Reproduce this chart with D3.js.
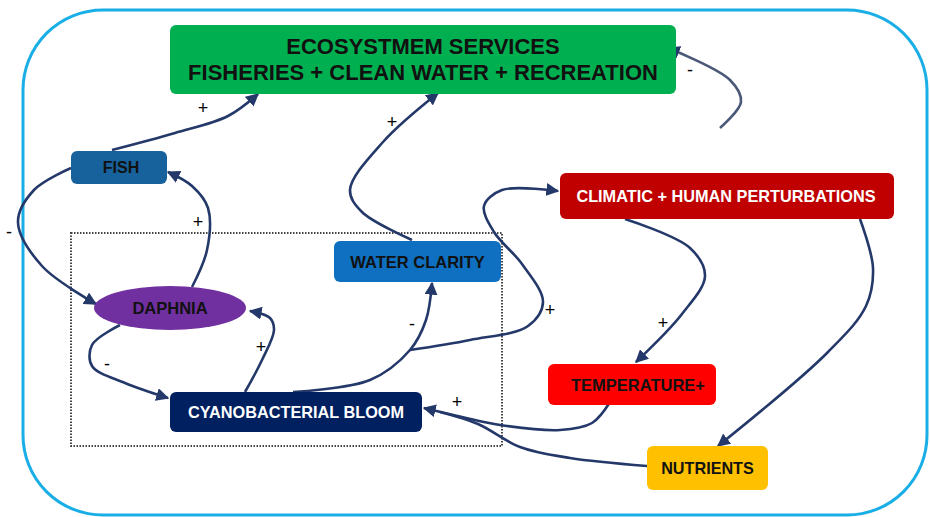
<!DOCTYPE html>
<html>
<head>
<meta charset="utf-8">
<script src="https://cdn.jsdelivr.net/npm/d3@7"></script>
<style>
  body { margin: 0; background: #fff; }
  svg text { font-family: "Liberation Sans", Arial, sans-serif; font-weight: bold; }
</style>
</head>
<body>
<div id="diagram"></div>
<script>
// node content
var nodeIds = ["eco", "fish", "wc", "clim", "daph", "cyano", "temp", "nut"];
var nodeLabels = [
  ["ECOSYSTMEM SERVICES", "FISHERIES + CLEAN WATER + RECREATION"],
  ["FISH"], ["WATER CLARITY"], ["CLIMATIC + HUMAN PERTURBATIONS"],
  ["DAPHNIA"], ["CYANOBACTERIAL BLOOM"], ["TEMPERATURE+"], ["NUTRIENTS"]
];
// links (sign of each causal effect)
var linkSources = ["fish", "wc", "loop", "fish", "daph", "daph", "cyano", "cyano", "branch", "clim", "clim", "temp", "nut"];
var linkTargets = ["eco", "eco", "eco", "daph", "fish", "cyano", "daph", "wc", "clim", "temp", "nut", "cyano", "cyano"];
var linkSigns = ["+", "+", "-", "-", "+", "-", "+", "-", "+", "+", "", "+", ""];

var svgWidth = 930;
var svgHeight = 517;

var svg = d3.select("#diagram")
  .append("svg")
  .attr("width", svgWidth)
  .attr("height", svgHeight);

// layout (pixel positions of the boxes)
var boxes = {
  eco:   {x: 170, y: 25,  w: 506, h: 69, fill: "#00b050", text: "#111", size: 22, dx: 0},
  fish:  {x: 71,  y: 151, w: 96,  h: 33, fill: "#17619c", text: "#111", size: 16, dx: 2},
  wc:    {x: 334, y: 241, w: 167, h: 41, fill: "#0f6fc0", text: "#111", size: 16.5, dx: 0},
  clim:  {x: 560, y: 173, w: 334, h: 46, fill: "#c00000", text: "#fff", size: 16.3, dx: -1},
  cyano: {x: 170, y: 392, w: 252, h: 40, fill: "#002060", text: "#fff", size: 16.3, dx: 0},
  temp:  {x: 548, y: 364, w: 168, h: 41, fill: "#ff0000", text: "#111", size: 16.5, dx: 6},
  nut:   {x: 647, y: 446, w: 121, h: 44, fill: "#ffc000", text: "#111", size: 16.2, dx: 0},
  daph:  {cx: 170, cy: 308, rx: 76, ry: 22, fill: "#7030a0", text: "#111", size: 16.5, dx: 0}
};

// link paths (control points)
var paths = {
  "fish-eco":    [[112,150],[175,133],[228,116],[258,94]],
  "wc-eco":      [[412,240],[362,212],[350,190],[383,142],[438,93]],
  "loop-eco":    [[720,128],[741,102],[730,80],[668,48]],
  "fish-daph":   [[71,168],[34,190],[18,222],[42,266],[96,304]],
  "daph-fish":   [[192,287],[207,250],[208,208],[192,186],[168,172]],
  "daph-cyano":  [[120,325],[92,345],[92,366],[125,383],[168,398]],
  "cyano-daph":  [[245,392],[262,360],[274,330],[270,318],[250,311]],
  "cyano-wc":    [[293,392],[370,380],[410,350],[426,320],[432,283]],
  "branch-clim": [[410,350],[470,340],[528,326],[543,302],[522,264],[494,232],[484,206],[502,190],[558,191]],
  "clim-temp":   [[625,219],[690,248],[705,276],[682,314],[636,362]],
  "clim-nut":    [[860,219],[873,268],[866,306],[828,352],[718,446]],
  "temp-cyano":  [[610,402],[592,423],[560,430],[500,425],[462,417],[424,408]],
  "nut-cyano":   [[647,466],[570,458],[520,447],[478,424],[440,412]]
};
var noHead = {"nut-cyano": true};
var signPos = [[203,108],[392,122],[690,70],[9,232],[198,222],[107,364],[261,347],[412,324],[550,310],[663,323],null,[457,402],null];

// outer frame
svg.append("rect")
  .attr("x", 23).attr("y", 10)
  .attr("width", 904).attr("height", 505)
  .attr("rx", 80).attr("ry", 80)
  .attr("fill", "none")
  .attr("stroke", "#1aaee6")
  .attr("stroke-width", 3);

// dotted subsystem box
svg.append("rect")
  .attr("x", 71).attr("y", 233)
  .attr("width", 431).attr("height", 213)
  .attr("fill", "none")
  .attr("stroke", "#444")
  .attr("stroke-width", 2)
  .attr("stroke-dasharray", "1.5,1.5");

svg.append("defs").append("marker")
  .attr("id", "arrow")
  .attr("viewBox", "0 0 10 10")
  .attr("refX", 9).attr("refY", 5)
  .attr("markerWidth", 5).attr("markerHeight", 5)
  .attr("orient", "auto")
  .append("path")
  .attr("d", "M0,0L10,5L0,10z")
  .attr("fill", "#24396a");

var line = d3.line().curve(d3.curveCatmullRom.alpha(0.5));

linkSources.forEach(function(s, i) {
  var key = s + "-" + linkTargets[i];
  var p = svg.append("path")
    .attr("d", line(paths[key]))
    .attr("fill", "none")
    .attr("stroke", key === "loop-eco" ? "#4a5878" : "#24396a")
    .attr("stroke-width", 2.6);
  if (!noHead[key]) p.attr("marker-end", "url(#arrow)");
  if (linkSigns[i] && signPos[i]) {
    svg.append("text")
      .attr("x", signPos[i][0]).attr("y", signPos[i][1])
      .attr("text-anchor", "middle")
      .attr("dominant-baseline", "central")
      .attr("font-size", 18)
      .attr("fill", "#000")
      .style("font-weight", "normal")
      .text(linkSigns[i]);
  }
});

// nodes
nodeIds.forEach(function(id, i) {
  var b = boxes[id];
  var cx, cy;
  if (id === "daph") {
    svg.append("ellipse")
      .attr("cx", b.cx).attr("cy", b.cy)
      .attr("rx", b.rx).attr("ry", b.ry)
      .attr("fill", b.fill);
    cx = b.cx; cy = b.cy;
  } else {
    svg.append("rect")
      .attr("x", b.x).attr("y", b.y)
      .attr("width", b.w).attr("height", b.h)
      .attr("rx", 6).attr("ry", 6)
      .attr("fill", b.fill);
    cx = b.x + b.w / 2; cy = b.y + b.h / 2;
  }
  var lines = nodeLabels[i];
  var lh = b.size * 1.15;
  lines.forEach(function(t, j) {
    svg.append("text")
      .attr("x", cx + b.dx)
      .attr("y", cy + (j - (lines.length - 1) / 2) * lh)
      .attr("text-anchor", "middle")
      .attr("dominant-baseline", "central")
      .attr("font-size", b.size)
      .attr("fill", b.text)
      .text(t);
  });
});
</script>
</body>
</html>
